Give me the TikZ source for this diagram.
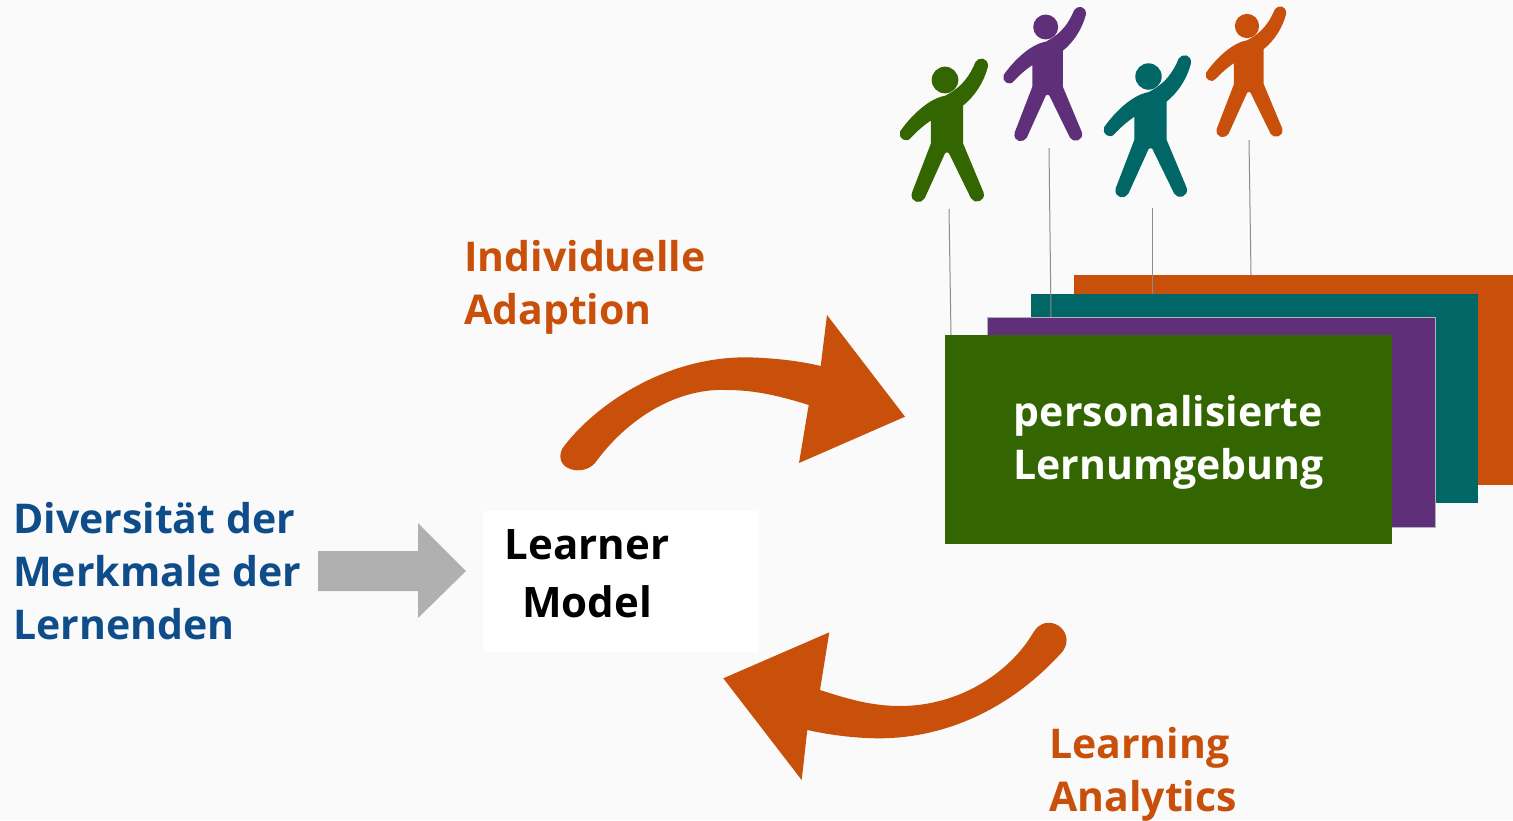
\documentclass[tikz,border=0pt]{standalone}
\usepackage{fontspec}
\setmainfont{Open Sans}
\definecolor{bg}{HTML}{FAFAFA}
\definecolor{cgreen}{HTML}{336600}
\definecolor{cpurple}{HTML}{5F2F7A}
\definecolor{cteal}{HTML}{006666}
\definecolor{corange}{HTML}{C8500A}
\definecolor{cblue}{HTML}{0F4C8A}
\definecolor{cgray}{HTML}{B0B0B0}
\newcommand{\personfig}[4]{%
\begin{scope}[shift={(#1,#2)},scale=#3/3,shift={(-194,-240)}]
\filldraw[#4,line width=1.8pt,line join=round] (288,187) .. controls (272,225) and (250,262) .. (195,290)
 .. controls (150,297) and (97,345) .. (62,395)
 .. controls (55,412) and (78,428) .. (90,411)
 .. controls (108,392) and (130,372) .. (154,357)
 -- (154,432) -- (97,580)
 .. controls (92,606) and (122,610) .. (131,593)
 -- (192,458) .. controls (196,452) and (204,452) .. (208,458)
 -- (274,593) .. controls (283,610) and (314,602) .. (307,578)
 -- (246,432) -- (246,315)
 .. controls (283,285) and (308,245) .. (320,200)
 .. controls (322,174) and (296,174) .. (288,187) -- cycle;
\fill[#4] (194,240) circle (40);
\end{scope}}
\tikzset{
 card/.style={rectangle,anchor=north west,inner sep=0pt,outer sep=0pt,minimum width=#1},
 lbl/.style={inner sep=0pt,align=left,font=\fontsize{41}{53}\selectfont\bfseries},
 stem/.style={draw=black!45,line width=1pt},
 blockarrow/.style={fill=corange}
}
\begin{document}
\begin{tikzpicture}[x=1pt,y=-1pt]
\path[use as bounding box,fill=bg] (0,0) rectangle (1513,820);
% cards
\node[card=447pt,minimum height=210pt,fill=corange] (corangebox) at (1074,275) {};
\node[card=447pt,minimum height=209pt,fill=cteal] (ctealbox) at (1031,294) {};
\node[card=448pt,minimum height=210pt,fill=cpurple,draw=black!30,line width=.5pt] (cpurplebox) at (987,317) {};
\node[card=447pt,minimum height=209pt,fill=cgreen] (cgreenbox) at (945,335) {};
\node[inner sep=0pt,align=center,text=white,font=\fontsize{41}{53}\selectfont\bfseries] (pl) at (1168.5,442) {personalisierte\\Lernumgebung};
% people
\personfig{945}{80}{1}{cgreen}
\personfig{1045.7}{27}{.935}{cpurple}
\personfig{1148.5}{76.5}{.99}{cteal}
\personfig{1247}{26}{.91}{corange}
% stems
\coordinate (g1) at (949,209); \coordinate (g2) at (951,335);
\coordinate (p1) at (1049,148); \coordinate (p2) at (1051,317);
\coordinate (t1) at (1152,208); \coordinate (t2) at (1152,294);
\coordinate (o1) at (1249,140); \coordinate (o2) at (1251,275);
\draw[stem] (g1) -- (g2);
\draw[stem] (p1) -- (p2);
\draw[stem] (t1) -- (t2);
\draw[stem] (o1) -- (o2);
% learner model
\node[rectangle,anchor=north west,fill=white,inner sep=0pt,minimum width=275pt,minimum height=141pt] (lmbox) at (483,511) {};
\node[inner sep=0pt,align=center,font=\fontsize{42}{58}\selectfont\bfseries] (lm) at (587,574) {Learner\\Model};
% grey arrow
\fill[cgray] (318,551) -- (418,551) -- (418,523) -- (466,571) -- (418,618) -- (418,591) -- (318,591) -- cycle;
% orange arrows
\path[blockarrow] (562,449) .. controls (590,410) and (660,357) .. (746.7,357.3)
 .. controls (775,358) and (800,361) .. (820.7,366)
 -- (827,315) -- (905,416.7) -- (799,463) -- (808.7,405)
 .. controls (780,396) and (755,390) .. (726.7,390)
 .. controls (680,388) and (630,415) .. (595,463)
 .. controls (583,477) and (553,470) .. (562,449) -- cycle;
\path[blockarrow] (1033,633) .. controls (1010,672) and (960,706) .. (900,706)
 .. controls (870,706) and (845,698) .. (820,690)
 -- (829.3,632.3) -- (723.3,678.3) -- (801.7,780) -- (807.3,730)
 .. controls (830,735) and (855,738.3) .. (880,738.3)
 .. controls (950,738) and (1015,705) .. (1063,651)
 .. controls (1077,630) and (1046,610) .. (1033,633) -- cycle;
% labels
\node[lbl,anchor=west,text=corange] (ia) at (464,287) {Individuelle\\Adaption};
\node[lbl,anchor=west,text=corange] (la) at (1049,774.5) {Learning\\Analytics};
\node[lbl,anchor=west,text=cblue] (dm) at (13,571) {Diversität der\\Merkmale der\\Lernenden};
\end{tikzpicture}
\end{document}
